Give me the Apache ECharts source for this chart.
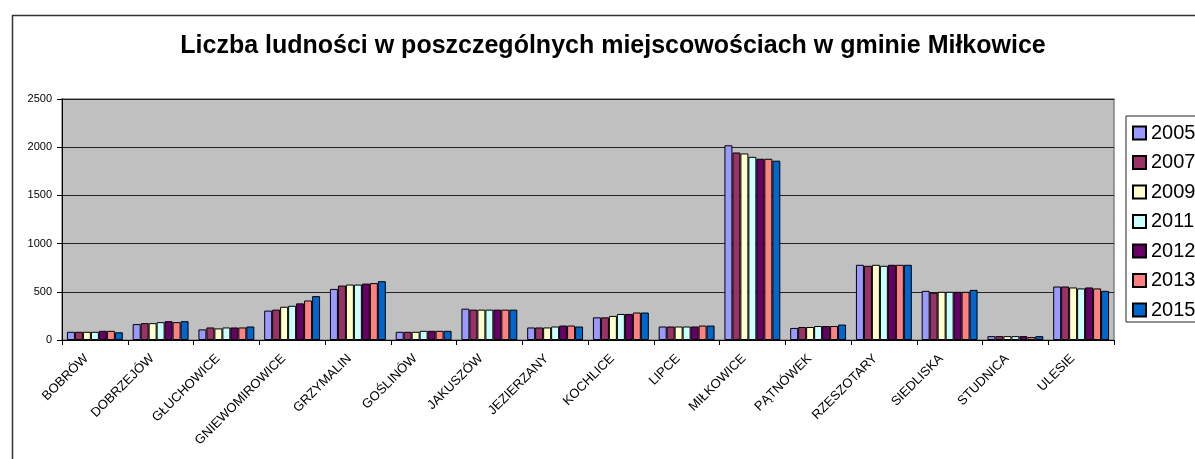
<!DOCTYPE html>
<html>
<head>
<meta charset="utf-8">
<style>
html,body{margin:0;padding:0;background:#fff;}
#chart{width:1195px;height:459px;}
</style>
<script src="https://cdn.jsdelivr.net/npm/echarts@6/dist/echarts.min.js"></script>
</head>
<body>
<div id="chart"></div>
<script>
var categories = ['BOBRÓW','DOBRZEJÓW','GŁUCHOWICE','GNIEWOMIROWICE','GRZYMALIN','GOŚLINÓW','JAKUSZÓW','JEZIERZANY','KOCHLICE','LIPCE','MIŁKOWICE','PĄTNÓWEK','RZESZOTARY','SIEDLISKA','STUDNICA','ULESIE'];
var years = ['2005','2007','2009','2011','2012','2013','2015'];
var colors = ['#9999FF','#993366','#FFFFCC','#CCFFFF','#660066','#FF8080','#0066CC'];
var v2005 = [85,165,110,305,530,85,325,130,235,140,2020,125,780,510,40,555];
var v2007 = [85,175,130,315,565,85,315,130,235,140,1945,135,770,490,40,555];
var v2009 = [85,175,120,345,575,85,315,130,250,140,1935,135,780,500,40,545];
var v2011 = [85,185,130,355,575,95,315,140,270,140,1900,145,770,500,40,535];
var v2012 = [95,195,130,380,585,95,315,150,270,140,1880,145,780,500,40,545];
var v2013 = [95,185,130,410,590,95,315,150,285,150,1880,145,780,500,30,535];
var v2015 = [80,195,140,455,610,95,315,140,285,150,1860,160,780,520,40,510];
var yTicks = [0,500,1000,1500,2000,2500];
var seriesValues = [v2005,v2007,v2009,v2011,v2012,v2013,v2015];

var chart = echarts.init(document.getElementById('chart'));
var font = 'Liberation Sans, Arial, sans-serif';
var option = {
  animation: false,
  textStyle: {fontFamily: font},
  title: {
    text: 'Liczba ludności w poszczególnych miejscowościach w gminie Miłkowice',
    left: 608, top: 29, textAlign: 'center',
    textStyle: {fontFamily: font, fontSize: 25, fontWeight: 'bold', color: '#000'}
  },
  graphic: [{
    type: 'rect', left: 10, top: 13, silent: true, z: -10,
    shape: {width: 1200, height: 500},
    style: {fill: 'none', stroke: '#333', lineWidth: 1.5}
  }],
  legend: {
    orient: 'vertical', left: 1126, top: 116,
    data: years, icon: 'rect',
    itemWidth: 13, itemHeight: 13, itemGap: 9.5,
    padding: [7, 40, 2, 6],
    backgroundColor: '#fff', borderColor: '#222', borderWidth: 1,
    textStyle: {fontFamily: font, fontSize: 20, color: '#000', lineHeight: 20}
  },
  grid: {
    left: 62, right: 81, top: 99, bottom: 119,
    show: true, backgroundColor: '#C0C0C0', borderColor: '#808080', borderWidth: 1.5
  },
  xAxis: {
    type: 'category', data: categories,
    axisLine: {show: true, lineStyle: {color: '#000', width: 1}},
    axisTick: {show: true, alignWithLabel: false, length: 5, lineStyle: {color: '#000'}},
    axisLabel: {rotate: 45, interval: 0, fontSize: 13, color: '#000', margin: 8,
      padding: [0, 12, 0, 0], fontFamily: font},
    splitLine: {show: false}
  },
  yAxis: {
    type: 'value', min: 0, max: 2500, interval: 500,
    axisLine: {show: true, lineStyle: {color: '#000', width: 1}},
    axisTick: {show: true, length: 5, lineStyle: {color: '#000'}},
    axisLabel: {fontSize: 11, color: '#000', margin: 10, fontFamily: font,
      formatter: function(v){ return yTicks.indexOf(v) >= 0 ? String(v) : ''; }},
    splitLine: {show: true, lineStyle: {color: '#222', width: 1}}
  },
  series: years.map(function(y, i){
    return {
      name: y, type: 'bar', data: seriesValues[i],
      barGap: '0%', barCategoryGap: '15%',
      itemStyle: {color: colors[i], borderColor: '#000', borderWidth: 1}
    };
  })
};
chart.setOption(option);
</script>
</body>
</html>
